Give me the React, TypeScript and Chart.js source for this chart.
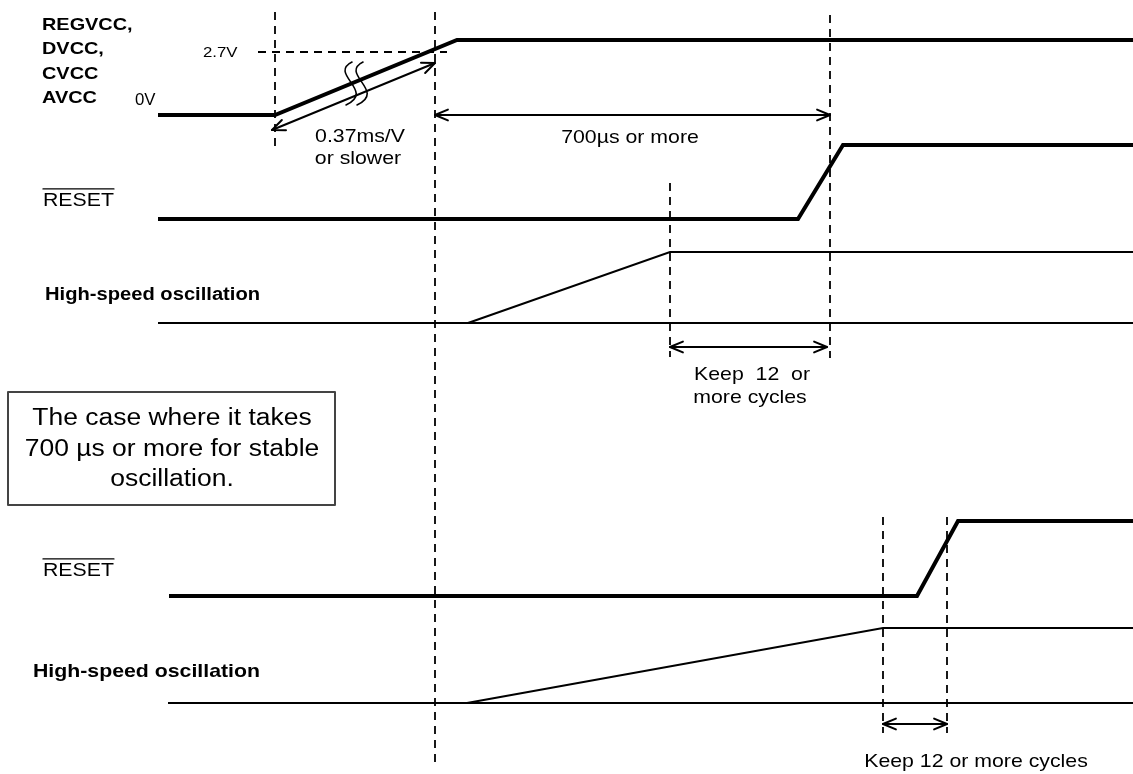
import React, { useEffect, useRef } from "react";
import { Chart, registerables } from "chart.js";

Chart.register(...registerables);

// ---- Diagram extent (time units horizontally, level units vertically, top = 0) ----
const TIME_MAX = 1133;
const LEVEL_MAX = 774;

// ---- Waveforms (time / level pairs) ----
const vccTime = [158, 275, 457, 1133];
const vccLevel = [115, 115, 40, 40];

const reset1Time = [158, 798, 843, 1133];
const reset1Level = [219, 219, 145, 145];

const osc1LowTime = [158, 1133];
const osc1LowLevel = [323, 323];
const osc1RiseTime = [468, 670, 1133];
const osc1RiseLevel = [323, 252, 252];

const reset2Time = [169, 917, 958, 1133];
const reset2Level = [596, 596, 521, 521];

const osc2LowTime = [168, 1133];
const osc2LowLevel = [703, 703];
const osc2RiseTime = [467, 883, 1133];
const osc2RiseLevel = [703, 628, 628];

// ---- Dashed reference markers ----
const markerTime = [275, 435, 830, 670, 883, 947];
const markerTop = [12, 12, 15, 183, 517, 517];
const markerBottom = [147, 762, 358, 357, 733, 733];
const thresholdTime = [258, 447];
const thresholdLevel = [52, 52];

// ---- Dimension arrows ----
const arrowStartTime = [272, 435, 670, 883];
const arrowStartLevel = [130, 115, 347, 724];
const arrowEndTime = [435, 830, 827, 947];
const arrowEndLevel = [63, 115, 347, 724];

// ---- Break marks on the ramp ----
const breakTime = [348, 359];
const breakTop = 62;
const breakBottom = 105;

// ---- Texts ----
const labelTexts = [
  "REGVCC,", "DVCC,", "CVCC", "AVCC", "0V", "2.7V", "0.37ms/V", "or slower",
  "700µs or more", "RESET", "High-speed oscillation", "Keep  12  or", "more cycles",
  "RESET", "High-speed oscillation", "Keep 12 or more cycles",
];
const labelTime = [42, 42, 42, 42, 135, 203, 360, 358, 630, 43, 45, 752, 750, 43, 33, 976];
const labelLevel = [30, 54, 79, 103, 105, 57, 142, 164, 143, 206, 300, 380, 403, 576, 677, 767];
const labelSize = [17, 17, 17, 17, 16, 15, 19, 19, 19, 19, 18, 19, 19, 19, 19, 19];
const labelScale = [1.17, 1.17, 1.17, 1.17, 1.05, 1.12, 1.12, 1.12, 1.12, 1.12, 1.12, 1.12, 1.12, 1.12, 1.12, 1.12];
const labelBold = [true, true, true, true, false, false, false, false, false, false, true, false, false, false, true, false];
const labelAlign = ["left", "left", "left", "left", "left", "left", "center", "center", "center", "left", "left", "center", "center", "left", "left", "center"];
const overlinedLabels = [9, 13];

const noteLines = ["The case where it takes", "700 µs or more for stable", "oscillation."];
const noteLevel = [425, 456, 486];
const noteCenterTime = 172;
const noteBox = [8, 392, 335, 505];

const FONT = '"Liberation Sans", Arial, Helvetica, sans-serif';

function pairs(t: number[], l: number[]) {
  return t.map((x, i) => ({ x, y: l[i] }));
}

function solid(t: number[], l: number[], w: number) {
  return {
    data: pairs(t, l),
    showLine: true,
    borderColor: "#000",
    borderWidth: w,
    pointRadius: 0,
    fill: false,
    tension: 0,
    clip: false as any,
    borderJoinStyle: "miter" as const,
  };
}

function dashed(t: number[], l: number[]) {
  return {
    ...solid(t, l, 1.8),
    borderDash: [8, 6],
    borderCapStyle: "butt" as const,
  };
}

const decorPlugin = {
  id: "decor",
  afterDatasetsDraw(chart: any) {
    const ctx: CanvasRenderingContext2D = chart.ctx;
    const xs = chart.scales.x;
    const ys = chart.scales.y;
    const px = (v: number) => xs.getPixelForValue(v);
    const py = (v: number) => ys.getPixelForValue(v);

    ctx.save();
    ctx.strokeStyle = "#000";
    ctx.fillStyle = "#000";

    // arrow heads
    ctx.lineWidth = 2;
    ctx.lineCap = "round";
    ctx.lineJoin = "round";
    const head = (x1: number, y1: number, x2: number, y2: number) => {
      const a = Math.atan2(y2 - y1, x2 - x1);
      const L = 14;
      const W = 0.4;
      ctx.beginPath();
      ctx.moveTo(x2 - L * Math.cos(a - W), y2 - L * Math.sin(a - W));
      ctx.lineTo(x2, y2);
      ctx.lineTo(x2 - L * Math.cos(a + W), y2 - L * Math.sin(a + W));
      ctx.stroke();
    };
    arrowStartTime.forEach((t, i) => {
      const x1 = px(t), y1 = py(arrowStartLevel[i]);
      const x2 = px(arrowEndTime[i]), y2 = py(arrowEndLevel[i]);
      head(x1, y1, x2, y2);
      head(x2, y2, x1, y1);
    });

    // break marks
    ctx.lineWidth = 1.6;
    breakTime.forEach((t) => {
      ctx.beginPath();
      ctx.moveTo(px(t + 4), py(breakTop));
      ctx.bezierCurveTo(px(t - 20), py(breakTop + 12), px(t + 28), py(breakBottom - 14), px(t - 2), py(breakBottom));
      ctx.stroke();
    });

    // note box
    ctx.lineWidth = 2;
    ctx.strokeStyle = "#444";
    ctx.fillStyle = "#fff";
    const bx = px(noteBox[0]), by = py(noteBox[1]);
    const bw = px(noteBox[2]) - bx, bh = py(noteBox[3]) - by;
    ctx.fillRect(bx, by, bw, bh);
    ctx.strokeRect(bx, by, bw, bh);

    ctx.fillStyle = "#000";
    ctx.strokeStyle = "#000";
    const drawText = (s: string, x: number, y: number, size: number, bold: boolean, align: string, sx: number) => {
      ctx.save();
      ctx.font = `${bold ? "bold " : ""}${size}px ${FONT}`;
      ctx.textAlign = align as CanvasTextAlign;
      ctx.textBaseline = "alphabetic";
      ctx.translate(x, y);
      ctx.scale(sx, 1);
      ctx.fillText(s, 0, 0);
      const w = ctx.measureText(s).width;
      ctx.restore();
      return w * sx;
    };

    labelTexts.forEach((s, i) => {
      const x = px(labelTime[i]);
      const y = py(labelLevel[i]);
      const w = drawText(s, x, y, labelSize[i], labelBold[i], labelAlign[i], labelScale[i]);
      if (overlinedLabels.includes(i)) {
        const oy = y - labelSize[i] * 0.9;
        ctx.lineWidth = 1.3;
        ctx.beginPath();
        ctx.moveTo(x, oy);
        ctx.lineTo(x + w, oy);
        ctx.stroke();
      }
    });

    noteLines.forEach((s, i) => {
      drawText(s, px(noteCenterTime), py(noteLevel[i]), 23, false, "center", 1.15);
    });

    ctx.restore();
  },
};

export default function App() {
  const ref = useRef<HTMLCanvasElement | null>(null);

  useEffect(() => {
    document.body.style.margin = "0";
    if (!ref.current) return;

    const datasets: any[] = [
      solid(vccTime, vccLevel, 4),
      solid(reset1Time, reset1Level, 4),
      solid(osc1LowTime, osc1LowLevel, 2),
      solid(osc1RiseTime, osc1RiseLevel, 2),
      solid(reset2Time, reset2Level, 4),
      solid(osc2LowTime, osc2LowLevel, 2),
      solid(osc2RiseTime, osc2RiseLevel, 2),
      dashed(thresholdTime, thresholdLevel),
    ];
    markerTime.forEach((t, i) => {
      datasets.push(dashed([t, t], [markerTop[i], markerBottom[i]]));
    });
    arrowStartTime.forEach((t, i) => {
      datasets.push({
        ...solid([t, arrowEndTime[i]], [arrowStartLevel[i], arrowEndLevel[i]], 2),
        borderCapStyle: "round",
      });
    });

    const chart = new Chart(ref.current, {
      type: "scatter",
      data: { datasets },
      options: {
        animation: false,
        responsive: false,
        maintainAspectRatio: false,
        layout: { padding: 0 },
        plugins: { legend: { display: false }, tooltip: { enabled: false } },
        events: [],
        scales: {
          x: { type: "linear", min: 0, max: TIME_MAX, display: false },
          y: { type: "linear", min: 0, max: LEVEL_MAX, reverse: true, display: false },
        },
      },
      plugins: [decorPlugin],
    });
    return () => chart.destroy();
  }, []);

  return (
    <div style={{ position: "absolute", left: 0, top: 0, width: 1133, height: 774, background: "#fff" }}>
      <canvas ref={ref} width={1133} height={774} />
    </div>
  );
}
